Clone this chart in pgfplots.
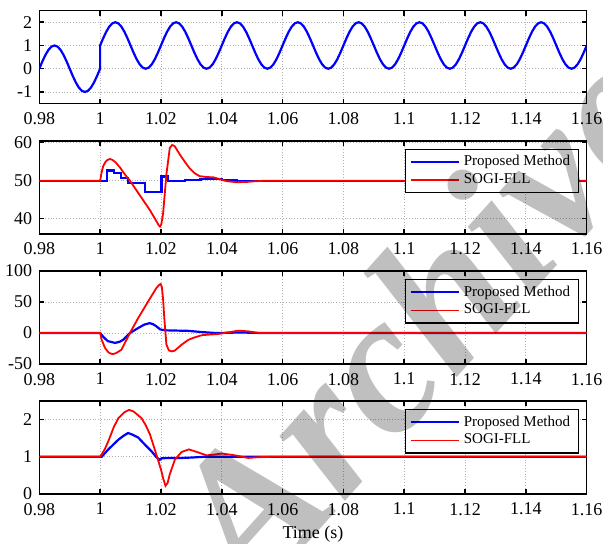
\documentclass[border=0pt]{standalone}
\usepackage{pgfplots}
\pgfplotsset{compat=1.18}
\usepackage{fontspec}
\setmainfont{Liberation Serif}
\pgfplotsset{
  panel/.style={
    scale only axis, width=273.7pt, height=46.5pt, anchor=north west,
    xmin=0.98, xmax=1.16,
    xtick={0.98,1,1.02,1.04,1.06,1.08,1.1,1.12,1.14,1.16},
    /pgf/number format/assume math mode=true,
    tick label style={font=\fontsize{9}{10}\selectfont},
    xticklabel style={yshift=-1pt},
    grid=major, grid style={densely dotted, gray!60, line width=0.4pt},
    axis line style={line width=0.75pt}, major tick length=2.5pt,
    every tick/.style={black, line width=0.75pt},
    legend cell align=left,
    legend style={at={(rel axis cs:1,1)}, xshift=-4pt, yshift=-4pt, anchor=north east,
      draw=black, line width=0.6pt, font=\fontsize{7.5}{8}\selectfont,
      inner xsep=2pt, inner ysep=1pt, row sep=-1.5pt},
    legend image code/.code={\draw[#1] (0pt,0pt) -- (24pt,0pt);},
  },
  bl/.style={blue, line width=1.1pt},
  rd/.style={red, line width=0.9pt},
}
\begin{document}
\begin{tikzpicture}
% Panel 1
\begin{axis}[panel, at={(19.65pt,-5.3pt)}, ymin=-1.5, ymax=2.5, ytick={-1,0,1,2}]
\addplot[bl] coordinates {
(0.980,0)(0.981,0.309)(0.982,0.588)(0.983,0.809)(0.984,0.951)(0.985,1)(0.986,0.951)(0.987,0.809)(0.988,0.588)(0.989,0.309)
(0.990,0)(0.991,-0.309)(0.992,-0.588)(0.993,-0.809)(0.994,-0.951)(0.995,-1)(0.996,-0.951)(0.997,-0.809)(0.998,-0.588)(0.999,-0.309)
(1.000,0)
(1.000,1)(1.001,1.309)(1.002,1.588)(1.003,1.809)(1.004,1.951)(1.005,2)(1.006,1.951)(1.007,1.809)(1.008,1.588)(1.009,1.309)
(1.010,1)(1.011,0.691)(1.012,0.412)(1.013,0.191)(1.014,0.049)(1.015,0)(1.016,0.049)(1.017,0.191)(1.018,0.412)(1.019,0.691)
(1.020,1)(1.021,1.309)(1.022,1.588)(1.023,1.809)(1.024,1.951)(1.025,2)(1.026,1.951)(1.027,1.809)(1.028,1.588)(1.029,1.309)
(1.030,1)(1.031,0.691)(1.032,0.412)(1.033,0.191)(1.034,0.049)(1.035,0)(1.036,0.049)(1.037,0.191)(1.038,0.412)(1.039,0.691)
(1.040,1)(1.041,1.309)(1.042,1.588)(1.043,1.809)(1.044,1.951)(1.045,2)(1.046,1.951)(1.047,1.809)(1.048,1.588)(1.049,1.309)
(1.050,1)(1.051,0.691)(1.052,0.412)(1.053,0.191)(1.054,0.049)(1.055,0)(1.056,0.049)(1.057,0.191)(1.058,0.412)(1.059,0.691)
(1.060,1)(1.061,1.309)(1.062,1.588)(1.063,1.809)(1.064,1.951)(1.065,2)(1.066,1.951)(1.067,1.809)(1.068,1.588)(1.069,1.309)
(1.070,1)(1.071,0.691)(1.072,0.412)(1.073,0.191)(1.074,0.049)(1.075,0)(1.076,0.049)(1.077,0.191)(1.078,0.412)(1.079,0.691)
(1.080,1)(1.081,1.309)(1.082,1.588)(1.083,1.809)(1.084,1.951)(1.085,2)(1.086,1.951)(1.087,1.809)(1.088,1.588)(1.089,1.309)
(1.090,1)(1.091,0.691)(1.092,0.412)(1.093,0.191)(1.094,0.049)(1.095,0)(1.096,0.049)(1.097,0.191)(1.098,0.412)(1.099,0.691)
(1.100,1)(1.101,1.309)(1.102,1.588)(1.103,1.809)(1.104,1.951)(1.105,2)(1.106,1.951)(1.107,1.809)(1.108,1.588)(1.109,1.309)
(1.110,1)(1.111,0.691)(1.112,0.412)(1.113,0.191)(1.114,0.049)(1.115,0)(1.116,0.049)(1.117,0.191)(1.118,0.412)(1.119,0.691)
(1.120,1)(1.121,1.309)(1.122,1.588)(1.123,1.809)(1.124,1.951)(1.125,2)(1.126,1.951)(1.127,1.809)(1.128,1.588)(1.129,1.309)
(1.130,1)(1.131,0.691)(1.132,0.412)(1.133,0.191)(1.134,0.049)(1.135,0)(1.136,0.049)(1.137,0.191)(1.138,0.412)(1.139,0.691)
(1.140,1)(1.141,1.309)(1.142,1.588)(1.143,1.809)(1.144,1.951)(1.145,2)(1.146,1.951)(1.147,1.809)(1.148,1.588)(1.149,1.309)
(1.150,1)(1.151,0.691)(1.152,0.412)(1.153,0.191)(1.154,0.049)(1.155,0)(1.156,0.049)(1.157,0.191)(1.158,0.412)(1.159,0.691)
(1.160,1)};
\end{axis}
% Panel 2
\begin{axis}[panel, at={(19.65pt,-70.4pt)}, ymin=36, ymax=60.5, ytick={40,50,60}]
\addplot[bl] coordinates {
(0.98,50)(1.0023,50)(1.0023,52.7)(1.0045,52.7)(1.0045,52.0)(1.0068,52.0)(1.0068,50.7)(1.0092,50.7)(1.0092,49.4)(1.0147,49.4)
(1.0147,47.0)(1.0202,47.0)(1.0202,51.1)(1.0222,51.1)(1.0222,50.0)(1.028,50.0)(1.028,50.2)(1.033,50.2)(1.033,50.35)(1.040,50.35)
(1.040,50.1)(1.045,50.1)(1.045,50)(1.16,50)};
\addlegendentry{Proposed Method}
\addplot[rd] coordinates {
(0.98,50)(1.0,50)(1.0005,52.2)(1.001,53.8)(1.0018,55.0)(1.0025,55.5)(1.0032,55.7)(1.004,55.5)(1.005,54.9)(1.0065,53.5)
(1.008,51.8)(1.0098,50)(1.0131,46.1)(1.0164,42.2)(1.0186,39.2)(1.0193,38.2)(1.0197,37.9)(1.0201,38.5)(1.0207,41.3)(1.0218,51.7)
(1.0229,58.6)(1.0237,59.4)(1.0245,59.1)(1.0262,56.9)(1.028,54.8)(1.0294,53.3)(1.031,52.0)(1.0327,51.2)(1.035,50.95)(1.0371,50.9)
(1.039,50.5)(1.0414,49.9)(1.0447,49.6)(1.048,49.65)(1.0501,49.8)(1.0545,50)(1.16,50)};
\addlegendentry{SOGI-FLL}
\end{axis}
% Panel 3
\begin{axis}[panel, at={(19.65pt,-135.5pt)}, ymin=-50, ymax=100, ytick={-50,0,50,100}]
\addplot[bl] coordinates {
(0.98,0)(1.0,0)(1.001,-6)(1.0025,-13)(1.0049,-16)(1.0065,-14)(1.0076,-10.8)(1.0098,0)(1.0125,8)(1.0145,13.5)
(1.0163,16)(1.0175,14)(1.0185,10.8)(1.0197,6)(1.0205,5)(1.0218,4.3)(1.0289,3.5)(1.0333,1.6)(1.038,0)(1.0425,0.4)
(1.046,1)(1.05,0.3)(1.055,0)(1.16,0)};
\addlegendentry{Proposed Method}
\addplot[rd] coordinates {
(0.98,0)(1.0,0)(1.0005,-10.8)(1.0016,-24)(1.0027,-31)(1.0036,-33.5)(1.0043,-33.9)(1.0052,-32.5)(1.007,-27)(1.0098,0)
(1.0125,24)(1.0158,51)(1.0185,72.6)(1.0195,78)(1.0199,79)(1.0203,74)(1.0207,55)(1.0211,24)(1.0218,-18.8)(1.0226,-28)
(1.0235,-29.6)(1.0245,-28.5)(1.0268,-18.8)(1.029,-11)(1.0311,-7)(1.0335,-3.5)(1.0355,-2.7)(1.0388,-1.6)(1.0421,1)(1.0454,3.8)
(1.0487,2.7)(1.0525,0)(1.16,0)};
\addlegendentry{SOGI-FLL}
\end{axis}
% Panel 4
\begin{axis}[panel, at={(19.65pt,-200.5pt)}, ymin=0, ymax=2.5, ytick={0,1,2},
  xlabel={Time (s)}, xlabel style={font=\fontsize{9}{10}\selectfont, at={(axis description cs:0.5,-0.27)}, anchor=north}]
\addplot[bl] coordinates {
(0.98,1)(1.0005,1)(1.0027,1.2)(1.006,1.46)(1.0078,1.57)(1.0092,1.64)(1.0105,1.6)(1.0125,1.52)(1.0147,1.33)(1.0169,1.15)
(1.0185,0.99)(1.0196,0.92)(1.0202,0.96)(1.023,0.97)(1.0268,0.97)(1.03,0.98)(1.034,1)(1.16,1)};
\addlegendentry{Proposed Method}
\addplot[rd] coordinates {
(0.98,1)(1.0,1)(1.0015,1.2)(1.0027,1.42)(1.0045,1.8)(1.006,2.04)(1.008,2.2)(1.0095,2.26)(1.011,2.22)(1.0136,2.04)
(1.015,1.85)(1.0164,1.6)(1.0185,1.06)(1.02,0.66)(1.0208,0.4)(1.0215,0.22)(1.0222,0.3)(1.0229,0.53)(1.0246,0.93)(1.0268,1.13)
(1.0292,1.2)(1.0322,1.12)(1.035,1.04)(1.0375,1.06)(1.04,1.09)(1.0443,1.04)(1.0487,0.97)(1.052,0.99)(1.056,1)(1.16,1)};
\addlegendentry{SOGI-FLL}
\end{axis}
% watermark
\node[rotate=48, text=black, text opacity=0.25, font=\fontsize{100}{100}\selectfont\bfseries\itshape] at (209pt,-159pt) {Archive};
\pgfresetboundingbox
\path[use as bounding box] (0pt,0pt) rectangle (301.5pt,-271.5pt);
\end{tikzpicture}
\end{document}
